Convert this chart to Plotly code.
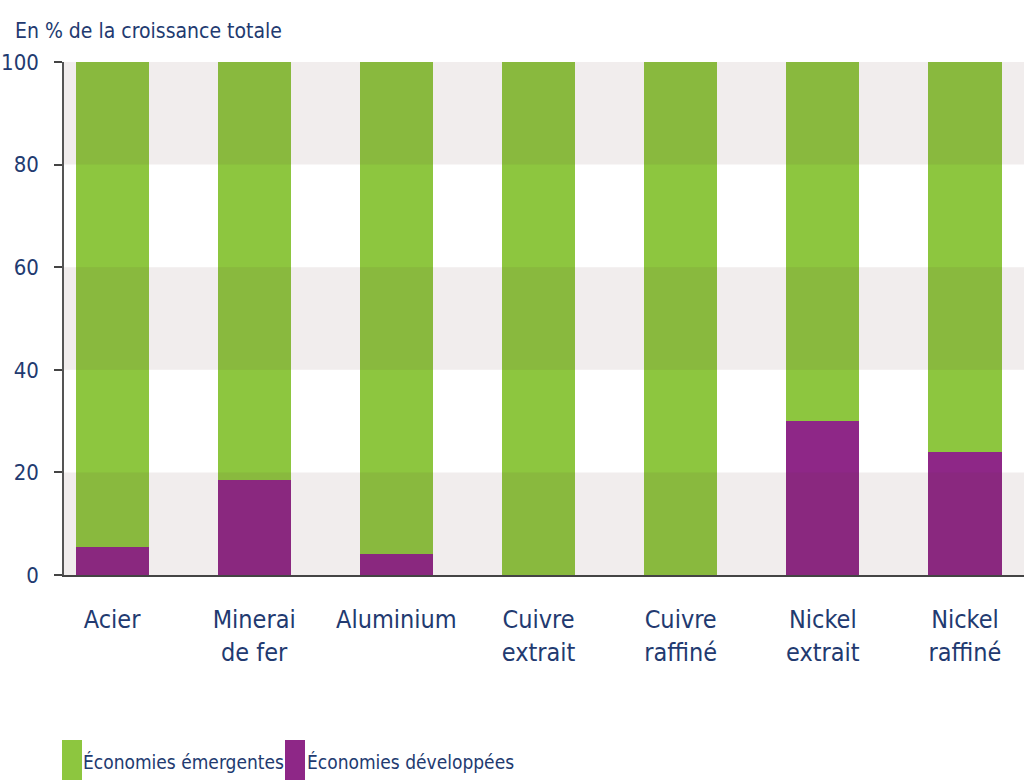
import plotly.graph_objects as go

# Catégories et parts (en % de la croissance totale)
categories = ["Acier", "Minerai<br>de fer", "Aluminium", "Cuivre<br>extrait",
              "Cuivre<br>raffiné", "Nickel<br>extrait", "Nickel<br>raffiné"]
developpees = [5.5, 18.5, 4, 0, 0, 30, 24]
emergentes = [100 - v for v in developpees]
series_names = ["Économies émergentes", "Économies développées"]
y_ticks = [0, 20, 40, 60, 80, 100]

GREEN = "#8dc63f"
PURPLE = "#8e2787"
NAVY = "#223a70"
FONT = "DejaVu Sans Condensed, DejaVu Sans, sans-serif"

x_idx = list(range(len(categories)))

fig = go.Figure()
fig.add_trace(go.Bar(x=x_idx, y=developpees, name=series_names[1],
                     marker=dict(color=PURPLE, line=dict(width=0)), width=0.514))
fig.add_trace(go.Bar(x=x_idx, y=emergentes, name=series_names[0],
                     marker=dict(color=GREEN, line=dict(width=0)), width=0.514))

shapes = []
# alternating shaded bands drawn over the bars
for lo in (0, 40, 80):
    shapes.append(dict(type="rect", xref="paper", yref="y", x0=0, x1=1, y0=lo, y1=lo + 20,
                       fillcolor="rgba(100,60,60,0.09)", line=dict(width=0), layer="above"))

# manual legend with large swatches (pixel positions converted to paper coords)
PL, PW, PB, PH = 64, 960, 575, 513
legend_items = [(series_names[0], GREEN, 62, 81), (series_names[1], PURPLE, 285, 305)]
annotations = []
for name, col, sx, tx in legend_items:
    shapes.append(dict(type="rect", xref="paper", yref="paper",
                       x0=(sx - PL) / PW, x1=(sx - PL + 20) / PW,
                       y0=-(740 - PB) / PH, y1=-(780 - PB) / PH,
                       fillcolor=col, line=dict(width=0)))
    annotations.append(dict(text=name, xref="paper", yref="paper",
                            x=(tx - PL) / PW, y=-(762 - PB) / PH,
                            xanchor="left", yanchor="middle", showarrow=False,
                            font=dict(family=FONT, size=19, color=NAVY)))

annotations.append(dict(text="En % de la croissance totale", xref="paper", yref="paper",
                        x=-(PL - 13) / PW, y=(PB - 31) / PH, xanchor="left", yanchor="middle",
                        showarrow=False,
                        font=dict(family=FONT, size=21, color=NAVY)))

fig.update_layout(
    barmode="stack",
    width=1024, height=780,
    margin=dict(l=64, r=0, t=62, b=205),
    plot_bgcolor="white", paper_bgcolor="white",
    showlegend=False,
    shapes=shapes, annotations=annotations,
    xaxis=dict(range=[-0.338, 6.415], tickmode="array", tickvals=x_idx, ticktext=categories,
               showgrid=False, zeroline=False, showline=True, linecolor="#444", linewidth=2,
               ticks="", ticklabelstandoff=21, automargin=False,
               tickfont=dict(family=FONT, size=25, color=NAVY)),
    yaxis=dict(range=[0, 100], tickvals=y_ticks, showgrid=False, zeroline=False,
               showline=True, linecolor="#555", linewidth=1.5,
               ticks="outside", ticklen=8, tickcolor="#444", tickwidth=1.5,
               ticklabelstandoff=11, automargin=False,
               tickfont=dict(family=FONT, size=22, color=NAVY)),
)

fig.write_html("out.html")
